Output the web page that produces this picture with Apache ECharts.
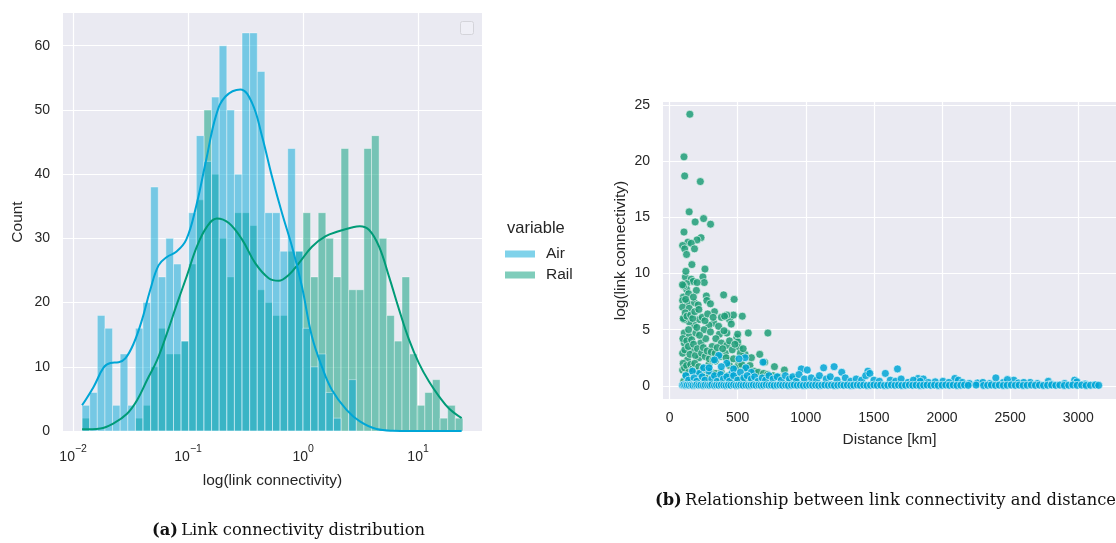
<!DOCTYPE html>
<html>
<head>
<meta charset="utf-8">
<script src="https://cdn.jsdelivr.net/npm/echarts@6/dist/echarts.min.js"></script>
<style>html,body{margin:0;padding:0;background:#fff}#c{width:1116px;height:543px}</style>
</head>
<body>
<div id="c"></div>
<script>
// ---------- Panel (a): histogram of log10(link connectivity) ----------
const binStart = -1.922;      // log10 of left edge of first bin
const binWidth = 0.06624;     // bin width in log10 units
const airCounts  = [4,6,18,16,4,12,4,16,20,38,24,30,26,14,34,46,42,52,60,50,40,62,62,56,34,34,28,44,28,16,10,12,6,2,0,8,0,0,0,0,0,0,0,0,0,0,0,0,0,0];
const railCounts = [2,0,0,0,0,0,0,2,4,10,16,12,12,14,26,36,50,40,30,24,34,34,32,22,20,18,18,28,28,34,24,34,30,24,44,22,22,44,46,30,18,14,24,12,4,6,8,2,4,2];
const airKde = [[-1.922,4.0],[-1.821,6.9],[-1.734,9.9],[-1.676,10.6],[-1.604,10.7],[-1.546,11.3],[-1.474,13.6],[-1.401,17.3],[-1.329,22.0],[-1.257,25.8],[-1.184,27.1],[-1.103,27.9],[-1.016,29.8],[-0.930,35.0],[-0.843,42.2],[-0.756,49.2],[-0.675,52.1],[-0.545,53.2],[-0.444,51.1],[-0.357,45.9],[-0.270,39.6],[-0.183,33.9],[-0.096,28.7],[-0.010,22.5],[0.077,14.7],[0.164,10.0],[0.251,6.4],[0.378,3.3],[0.494,1.5],[0.639,0.3],[0.780,0.05],[1.101,0],[1.379,0]];
const railKde = [[-1.922,0.26],[-1.763,0.4],[-1.648,1.2],[-1.531,2.7],[-1.444,4.8],[-1.358,7.9],[-1.271,11.0],[-1.184,15.2],[-1.097,19.8],[-1.010,24.2],[-0.924,28.7],[-0.837,31.8],[-0.750,33.1],[-0.646,32.4],[-0.530,29.8],[-0.415,26.1],[-0.299,23.8],[-0.212,23.4],[-0.125,24.3],[-0.038,26.1],[0.077,28.7],[0.193,30.3],[0.309,31.1],[0.424,31.7],[0.494,31.9],[0.575,31.3],[0.661,28.7],[0.748,24.0],[0.835,18.9],[0.922,14.2],[1.009,10.5],[1.095,7.7],[1.182,5.4],[1.269,3.5],[1.379,2.0]];
const histXTicks = [-2,-1,0,1];          // exponents shown as 10^n
const histYTicks = [0,10,20,30,40,50,60];

// ---------- Panel (b): scatter distance vs log(link connectivity) ----------
const railPoints = [[149,24.2],[106,20.4],[111,18.7],[226,18.2],[144,15.5],[250,14.9],[188,14.6],[301,14.4],[106,13.7],[231,13.2],[202,13.0],[135,12.8],[96,12.5],[159,12.7],[111,12.2],[183,12.2],[125,11.7],[164,10.8],[260,10.4],[116,9.7],[245,9.7],[159,9.5],[173,9.3],[255,9.2],[125,9.1],[202,9.2],[125,8.6],[197,8.5],[397,8.1],[270,8.0],[101,7.9],[474,7.7],[96,7.6],[274,7.6],[130,7.4],[183,7.4],[96,7.0],[144,6.9],
[104,8.9],[140,8.2],[175,7.9],[210,7.2],[118,7.7],[300,7.3],[330,6.6],[380,6.1],[440,5.9],[120,10.2],[95,9.0],
[534,6.2],[469,6.3],[421,6.3],[404,6.2],[453,5.5],[421,4.7],[578,4.7],[722,4.7],[494,4.3],[501,3.9],[511,3.4],[366,4.6],[325,5.6],[289,5.4],[253,5.0],[217,5.9],[181,5.4],[144,5.7],[108,5.9],[108,4.7],[108,3.8],[96,2.9],[144,4.4],[193,4.7],[229,3.8],[265,4.2],[313,3.5],[168,3.2],[217,2.5],[132,2.3],[337,2.2],[409,2.9],[433,2.2],[554,2.8],[601,2.5],[662,2.8],[698,2.1],[770,1.7],[843,1.4],[96,1.4],[120,1.0],[505,1.9],[289,1.9],
[100,6.0],[115,6.5],[128,6.2],[140,5.0],[155,6.3],[170,6.0],[185,6.6],[200,5.2],[215,6.8],[240,6.1],[260,5.8],[280,6.4],[300,4.8],[320,6.1],[340,4.2],[360,5.3],[380,3.8],[400,4.9],[420,3.6],[440,4.0],[460,3.2],[480,3.7],[500,4.6],[520,2.9],[540,3.3],
[98,4.2],[112,3.2],[126,4.0],[138,3.5],[150,2.8],[162,4.1],[176,3.7],[190,2.7],[205,3.3],[220,4.5],[235,2.9],[248,3.4],[262,2.6],[276,3.1],[292,2.4],[306,3.0],[320,2.3],[335,2.9],[350,3.4],[372,2.6],[390,3.3],[415,2.5],[440,1.8],[470,2.4],[490,1.6],[530,1.9],[560,1.5],[590,1.8],[620,1.3],[650,1.2],[690,1.1],[720,1.0],[760,0.9],[800,0.8],[880,0.7],[920,0.6],
[100,2.0],[110,1.6],[125,1.8],[140,1.2],[155,1.9],[170,1.5],[185,2.0],[200,1.3],[215,1.7],[230,1.1],[245,1.5],[260,1.0],[275,1.4],[290,0.9],[305,1.2],[320,0.8],[340,1.1],[360,0.7],[380,1.2],[400,0.8],[430,0.9],[460,0.6],[500,0.7],[540,0.5],[580,0.6],
[104,0.4],[130,0.3],[160,0.5],[190,0.3],[225,0.4],[255,0.2],[285,0.3],[315,0.2],[350,0.3],[390,0.2],[430,0.3],[480,0.2],[560,0.2],[640,0.2],[700,0.3]];
const airPoints = [[361,2.7],[554,2.5],[686,2.1],[967,1.5],[1011,1.4],[1131,1.6],[1208,1.7],[1264,1.2],[1456,1.3],[1584,1.1],[1673,1.5],[2094,0.65],[2395,0.7],[2527,0.5],[2973,0.5],[2647,0.3],[1824,0.65],[1863,0.6],[2007,0.4],[2780,0.4],[217,1.1],[168,1.3],[289,1.3],[457,1.1],
[250,1.6],[330,2.3],[420,2.0],[470,1.5],[560,1.6],[600,1.2],[510,2.4],[380,1.7],[290,1.6],
[120,0.9],[140,0.5],[180,0.7],[200,0.4],[240,0.8],[260,0.5],[310,0.6],[330,0.9],[350,0.4],[375,1.0],[395,0.6],[420,0.8],[440,0.4],[470,0.9],[500,0.5],[520,1.2],[545,0.7],[570,0.9],[600,0.6],[625,0.8],[650,0.4],[680,0.7],[705,0.5],[730,0.9],[760,0.6],[790,0.8],[820,0.5],[850,0.9],[880,0.6],[905,0.8],[930,0.4],[950,1.0],[990,0.6],[1040,0.7],[1080,0.5],[1100,0.9],[1150,0.6],[1180,0.8],[1230,0.5],[1290,0.7],[1330,0.4],[1370,0.6],[1410,0.5],[1440,0.9],[1470,1.1],[1500,0.5],[1540,0.4],[1620,0.5],[1660,0.4],[1700,0.6],[1750,0.3],[1790,0.5],[1840,0.4],[1900,0.3],[1950,0.35],[2050,0.3],[2120,0.5],[2150,0.3],[2200,0.2],[2260,0.25],[2300,0.3],[2350,0.2],[2450,0.3],[2480,0.55],[2560,0.25],[2600,0.3],[2700,0.2],[2800,0.15],[2900,0.2],[2990,0.35],[3050,0.15],[3120,0.1],
[95,0.05],[105,0.08],[118,0.03],[130,0.06],[145,0.04],[160,0.07],[172,0.03],[188,0.05],[200,0.09],[215,0.04],[230,0.06],[248,0.03],[262,0.07],[280,0.05],[295,0.04],[310,0.08],[330,0.03],[345,0.06],[362,0.04],[380,0.07],[398,0.05],[415,0.03],[432,0.06],[450,0.04],[470,0.08],[488,0.03],[505,0.05],[522,0.07],[540,0.04],[560,0.06],[580,0.03],[598,0.05],[615,0.07],[635,0.04],[655,0.06],[672,0.03],[690,0.05],[710,0.08],[730,0.04],[748,0.06],[768,0.03],[790,0.05],[810,0.07],[830,0.04],[852,0.06],[872,0.03],[895,0.05],[915,0.07],[938,0.04],[960,0.06],[982,0.03],[1005,0.05],[1028,0.07],[1050,0.04],[1072,0.06],[1095,0.03],[1118,0.05],[1140,0.07],[1165,0.04],[1188,0.06],[1210,0.03],[1235,0.05],[1258,0.07],[1280,0.04],[1305,0.06],[1330,0.03],[1352,0.05],[1378,0.07],[1400,0.04],[1425,0.06],[1450,0.03],[1475,0.05],[1500,0.07],[1525,0.04],[1550,0.06],[1578,0.03],[1602,0.05],[1628,0.07],[1655,0.04],[1680,0.06],[1705,0.03],[1732,0.05],[1760,0.07],[1785,0.04],[1810,0.06],[1838,0.03],[1865,0.05],[1890,0.07],[1918,0.04],[1945,0.06],[1972,0.03],[2000,0.05],[2028,0.07],[2055,0.04],[2082,0.06],[2110,0.03],[2138,0.05],[2165,0.07],[2192,0.04],[2250,0.06],[2305,0.03],[2335,0.05],[2362,0.07],[2392,0.04],[2420,0.06],[2450,0.03],[2478,0.05],[2508,0.07],[2538,0.04],[2566,0.06],[2596,0.03],[2625,0.05],[2655,0.07],[2685,0.04],[2715,0.06],[2745,0.03],[2775,0.05],[2805,0.07],[2835,0.04],[2865,0.06],[2898,0.03],[2930,0.05],[2960,0.07],[2992,0.04],[3025,0.06],[3058,0.03],[3090,0.05],[3125,0.07],[3150,0.04]];
const scatterXTicks = [0,500,1000,1500,2000,2500,3000];
const scatterYTicks = [0,5,10,15,20,25];

// ---------- styling ----------
const AIR = '#00A6D6', RAIL = '#009B77';
const BG = '#EAEAF2';
const FONT = '"Liberation Sans", Arial, sans-serif';
const TXT = '#262626';

function bins(counts) {
  return counts.map((c, i) => [binStart + i * binWidth, binStart + (i + 1) * binWidth, c]);
}
function histSeries(name, counts, color) {
  return {
    name: name, type: 'custom', xAxisIndex: 0, yAxisIndex: 0,
    data: bins(counts), encode: { x: [0, 1], y: 2 },
    itemStyle: { color: color, opacity: 0.5 },
    renderItem: function (params, api) {
      if (api.value(2) <= 0) return null;
      const p0 = api.coord([api.value(0), api.value(2)]);
      const p1 = api.coord([api.value(1), 0]);
      return {
        type: 'rect',
        shape: { x: p0[0], y: p0[1], width: p1[0] - p0[0], height: p1[1] - p0[1] },
        style: { fill: color, opacity: 0.5, stroke: '#ffffff', lineWidth: 0.8 }
      };
    },
    z: 2
  };
}
const axisCommon = {
  axisLine: { show: false }, axisTick: { show: false },
  splitLine: { show: true, lineStyle: { color: '#ffffff', width: 1.2 } },
  axisLabel: { color: TXT, fontSize: 14, fontFamily: FONT },
  nameTextStyle: { color: TXT, fontSize: 15.5, fontFamily: FONT }
};

const chart = echarts.init(document.getElementById('c'), null, { renderer: 'canvas' });
chart.setOption({
  backgroundColor: '#ffffff',
  animation: false,
  grid: [
    { left: 63, top: 13, width: 419, height: 418, backgroundColor: BG, show: true, borderWidth: 0 },
    { left: 663, top: 102, width: 460, height: 297, backgroundColor: BG, show: true, borderWidth: 0 }
  ],
  xAxis: [
    Object.assign({}, axisCommon, {
      type: 'value', gridIndex: 0, min: -2.088, max: 1.556,
      axisTick: { show: false, customValues: histXTicks },
      axisLabel: {
        customValues: histXTicks, margin: 9, color: TXT, fontFamily: FONT,
        formatter: v => '{b|10}{s|' + (v < 0 ? '\u2212' + Math.abs(v) : v) + '}',
        rich: {
          b: { fontSize: 14, color: TXT, fontFamily: FONT, padding: [10, 0, 0, 0] },
          s: { fontSize: 10.5, color: TXT, fontFamily: FONT, padding: [0, 0, 6, 0] }
        }
      },
      name: 'log(link connectivity)', nameLocation: 'middle', nameGap: 42
    }),
    Object.assign({}, axisCommon, {
      type: 'value', gridIndex: 1, min: -48, max: 3277,
      axisTick: { show: false, customValues: scatterXTicks },
      axisLabel: Object.assign({}, axisCommon.axisLabel, { customValues: scatterXTicks, margin: 12, formatter: v => String(v) }),
      name: 'Distance [km]', nameLocation: 'middle', nameGap: 33
    })
  ],
  yAxis: [
    Object.assign({}, axisCommon, {
      type: 'value', gridIndex: 0, min: 0, max: 65.1, interval: 10,
      axisLabel: Object.assign({}, axisCommon.axisLabel, { margin: 13, customValues: histYTicks }),
      axisTick: { show: false, customValues: histYTicks },
      name: 'Count', nameLocation: 'middle', nameGap: 37
    }),
    Object.assign({}, axisCommon, {
      type: 'value', gridIndex: 1, min: -1.18, max: 25.29,
      axisTick: { show: false, customValues: scatterYTicks },
      axisLabel: Object.assign({}, axisCommon.axisLabel, { customValues: scatterYTicks, margin: 13, formatter: v => String(v) }),
      name: 'log(link connectivity)', nameLocation: 'middle', nameGap: 34
    })
  ],
  legend: {
    data: ['Air', 'Rail'], orient: 'vertical', left: 500, top: 241,
    icon: 'rect', itemWidth: 30, itemHeight: 7, itemGap: 5,
    textStyle: { color: TXT, fontSize: 15.5, fontFamily: FONT, padding: [0, 0, 0, 6] }
  },
  graphic: [
    { type: 'text', left: 507, top: 220, style: { text: 'variable', fill: TXT, font: '16.5px "Liberation Sans", Arial, sans-serif' } },
    { type: 'rect', shape: { x: 460.5, y: 21.5, width: 13, height: 13, r: 2 }, style: { fill: 'rgba(240,240,246,0.8)', stroke: '#d4d4da', lineWidth: 1 }, z: 10 },
    { type: 'text', left: 152, top: 523, style: { rich: { bd: { font: 'bold 16.3px "DejaVu Serif", serif', fill: '#111' }, n: { font: '16.3px "DejaVu Serif", serif', fill: '#111' } }, text: '{bd|(a)} {n|Link connectivity distribution}' } },
    { type: 'text', left: 655, top: 493, style: { rich: { bd: { font: 'bold 16.3px "DejaVu Serif", serif', fill: '#111' }, n: { font: '16.3px "DejaVu Serif", serif', fill: '#111' } }, text: '{bd|(b)} {n|Relationship between link connectivity and distance}' } }
  ],
  series: [
    histSeries('Rail', railCounts, RAIL),
    histSeries('Air', airCounts, AIR),
    { name: 'Rail KDE', type: 'line', xAxisIndex: 0, yAxisIndex: 0, data: railKde, smooth: 0.4, symbol: 'none', lineStyle: { color: RAIL, width: 2 }, z: 5 },
    { name: 'Air KDE', type: 'line', xAxisIndex: 0, yAxisIndex: 0, data: airKde, smooth: 0.4, symbol: 'none', lineStyle: { color: AIR, width: 2 }, z: 6 },
    { name: 'Rail points', type: 'scatter', xAxisIndex: 1, yAxisIndex: 1, data: railPoints, symbolSize: 8, itemStyle: { color: '#1E9E78', opacity: 0.85, borderColor: '#ffffff', borderWidth: 0.7 }, z: 3 },
    { name: 'Air points', type: 'scatter', xAxisIndex: 1, yAxisIndex: 1, data: airPoints, symbolSize: 8, itemStyle: { color: AIR, opacity: 0.85, borderColor: '#ffffff', borderWidth: 0.7 }, z: 4 }
  ]
});
</script>
</body>
</html>
